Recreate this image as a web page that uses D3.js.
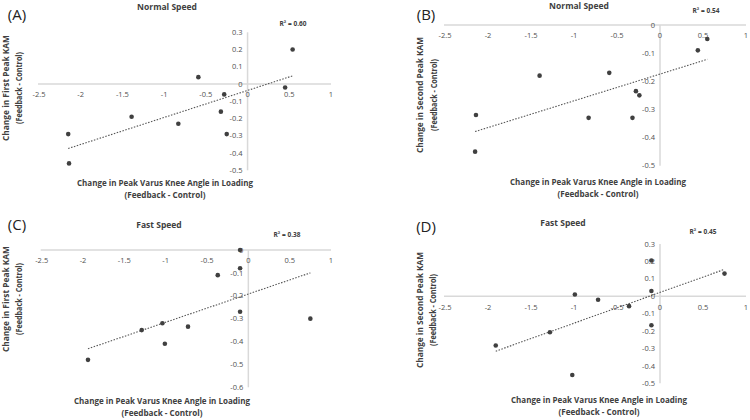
<!DOCTYPE html>
<html><head><meta charset="utf-8">
<script src="https://cdn.jsdelivr.net/npm/d3@7"></script>
<style>body{margin:0;background:#fff}svg{display:block}</style>
</head><body><svg id="c" width="750" height="420"></svg>
<script>
// ---------- data ----------
const xTicks = [-2.5, -2, -1.5, -1, -0.5, 0, 0.5, 1];
const yTicksA = [0.3, 0.2, 0.1, 0, -0.1, -0.2, -0.3, -0.4, -0.5];
const yTicksB = [0, -0.1, -0.2, -0.3, -0.4, -0.5];
const yTicksC = [0, -0.1, -0.2, -0.3, -0.4, -0.5, -0.6];
const yTicksD = [0.3, 0.2, 0.1, 0, -0.1, -0.2, -0.3, -0.4, -0.5];

const xA = [0.54, 0.45, -0.59, -0.28, -0.32, -0.25, -0.83, -1.39, -2.15, -2.14];
const yA = [0.20, -0.02, 0.04, -0.06, -0.16, -0.29, -0.23, -0.19, -0.29, -0.46];
const xB = [0.55, 0.44, -0.59, -1.40, -0.28, -0.24, -0.32, -0.83, -2.14, -2.15];
const yB = [-0.05, -0.09, -0.17, -0.18, -0.235, -0.25, -0.33, -0.33, -0.32, -0.45];
const xC = [-0.10, -0.10, -0.37, -0.10, 0.75, -1.04, -0.73, -1.29, -1.01, -1.94];
const yC = [0.00, -0.08, -0.11, -0.27, -0.30, -0.32, -0.335, -0.35, -0.41, -0.48];
const xD = [-0.10, 0.75, -0.10, -0.99, -0.72, -0.36, -0.10, -1.28, -1.91, -1.02];
const yD = [0.205, 0.13, 0.03, 0.01, -0.02, -0.057, -0.167, -0.207, -0.283, -0.452];

const letters = ["(A)", "(B)", "(C)", "(D)"];
const titles = ["Normal Speed", "Normal Speed", "Fast Speed", "Fast Speed"];
const r2Labels = ["R\u00B2 = 0.60", "R\u00B2 = 0.54", "R\u00B2 = 0.38", "R\u00B2 = 0.45"];
const yTitles = ["Change in First Peak KAM", "Change in Second Peak KAM", "Change in First Peak KAM", "Change in Second Peak KAM"];
const xTitle1 = "Change in Peak Varus Knee Angle in Loading";
const subTitle = "(Feedback - Control)";

// ---------- layout ----------
const layouts = [
  {xr:[39,331], yr:[32.3,170.3], yd:[0.3,-0.5], letter:[17,15], title:[167,7], r2:[293,24], yt:[6,19,88], xt:[165,183,195], xs:xA, ys:yA, yticks:yTicksA},
  {xr:[445,746], yr:[25,165.7], yd:[0,-0.5], letter:[426,15], title:[579,6], r2:[706,11], yt:[420,434,95], xt:[598,182.5,194.5], xs:xB, ys:yB, yticks:yTicksB},
  {xr:[41.7,331], yr:[250,387.3], yd:[0,-0.6], letter:[17,225], title:[159,225], r2:[287,235], yt:[6,19,299], xt:[162,401.5,413.5], xs:xC, ys:yC, yticks:yTicksC},
  {xr:[445,746], yr:[244,383.3], yd:[0.3,-0.5], letter:[426,227], title:[563,223], r2:[703,232], yt:[420,433,310], xt:[599,400.5,412.5], xs:xD, ys:yD, yticks:yTicksD}
];

const svg = d3.select("#c");
const FONT = "'Open Sans', 'Liberation Sans', sans-serif";

function fit(xs, ys){
  const n = xs.length, mx = d3.mean(xs), my = d3.mean(ys);
  let sxy = 0, sxx = 0;
  for (let i = 0; i < n; i++){ sxy += (xs[i]-mx)*(ys[i]-my); sxx += (xs[i]-mx)**2; }
  const b = sxy/sxx; return {b, a: my - b*mx};
}

layouts.forEach((L, i) => {
  const g = svg.append("g");
  const x = d3.scaleLinear().domain([-2.5, 1]).range(L.xr);
  const y = d3.scaleLinear().domain(L.yd).range(L.yr);
  const x0 = x(0), y0 = y(0);

  // axis lines
  g.append("line").attr("x1", L.xr[0]-1).attr("x2", L.xr[1]).attr("y1", y0).attr("y2", y0)
    .attr("stroke", "#d9d9d9").attr("stroke-width", 1.5);
  g.append("line").attr("x1", x0).attr("x2", x0).attr("y1", L.yr[0]).attr("y2", L.yr[1])
    .attr("stroke", "#d9d9d9").attr("stroke-width", 1.5);

  // x tick labels
  g.selectAll(".xt").data(xTicks).join("text")
    .attr("x", d => x(d)).attr("y", y0 + 10.7).attr("dy", "0.35em")
    .attr("text-anchor", "middle").attr("font-family", FONT).attr("font-size", 7.5)
    .attr("fill", "#505050").text(d => d);
  // y tick labels
  g.selectAll(".yt").data(L.yticks).join("text")
    .attr("x", x0 - 5).attr("y", d => y(d)).attr("dy", "0.35em")
    .attr("text-anchor", "end").attr("font-family", FONT).attr("font-size", 7.5)
    .attr("fill", "#505050").text(d => d);

  // trendline
  const f = fit(L.xs, L.ys);
  const ext = d3.extent(L.xs);
  g.append("line")
    .attr("x1", x(ext[0])).attr("y1", y(f.a + f.b*ext[0]))
    .attr("x2", x(ext[1])).attr("y2", y(f.a + f.b*ext[1]))
    .attr("stroke", "#555").attr("stroke-width", 1.1).attr("stroke-dasharray", "1.5,1.5");

  // points
  g.selectAll("circle").data(L.xs.map((v, k) => [v, L.ys[k]])).join("circle")
    .attr("cx", d => x(d[0])).attr("cy", d => y(d[1])).attr("r", 2.3).attr("fill", "#404040");

  // texts
  g.append("text").attr("x", L.letter[0]).attr("y", L.letter[1]).attr("dy", "0.35em")
    .attr("text-anchor", "middle").attr("font-family", FONT).attr("font-size", 15)
    .attr("fill", "#222").text(letters[i]);
  g.append("text").attr("x", L.title[0]).attr("y", L.title[1]).attr("dy", "0.35em")
    .attr("text-anchor", "middle").attr("font-family", FONT).attr("font-size", 8.5)
    .attr("font-weight", "bold").attr("fill", "#404040").text(titles[i]);
  g.append("text").attr("x", L.r2[0]).attr("y", L.r2[1]).attr("dy", "0.35em")
    .attr("text-anchor", "middle").attr("font-family", FONT).attr("font-size", 6.5)
    .attr("font-weight", "bold").attr("fill", "#404040").text(r2Labels[i]);

  // x title
  g.append("text").attr("x", L.xt[0]).attr("y", L.xt[1]).attr("dy", "0.35em")
    .attr("text-anchor", "middle").attr("font-family", FONT).attr("font-size", 8.5)
    .attr("font-weight", "bold").attr("fill", "#404040")
    .attr("textLength", 176).attr("lengthAdjust", "spacingAndGlyphs").text(xTitle1);
  g.append("text").attr("x", L.xt[0]).attr("y", L.xt[2]).attr("dy", "0.35em")
    .attr("text-anchor", "middle").attr("font-family", FONT).attr("font-size", 8.5)
    .attr("font-weight", "bold").attr("fill", "#404040")
    .attr("textLength", 81).attr("lengthAdjust", "spacingAndGlyphs").text(subTitle);

  // y title (rotated)
  const yt1Len = (i % 2 === 0) ? 106 : 116;
  g.append("text").attr("transform", `translate(${L.yt[0]},${L.yt[2]}) rotate(-90)`).attr("dy", "0.35em")
    .attr("text-anchor", "middle").attr("font-family", FONT).attr("font-size", 8.5)
    .attr("font-weight", "bold").attr("fill", "#404040")
    .attr("textLength", yt1Len).attr("lengthAdjust", "spacingAndGlyphs").text(yTitles[i]);
  g.append("text").attr("transform", `translate(${L.yt[1]},${L.yt[2]}) rotate(-90)`).attr("dy", "0.35em")
    .attr("text-anchor", "middle").attr("font-family", FONT).attr("font-size", 8.5)
    .attr("font-weight", "bold").attr("fill", "#404040")
    .attr("textLength", 72).attr("lengthAdjust", "spacingAndGlyphs").text(subTitle);
});
</script></body></html>
